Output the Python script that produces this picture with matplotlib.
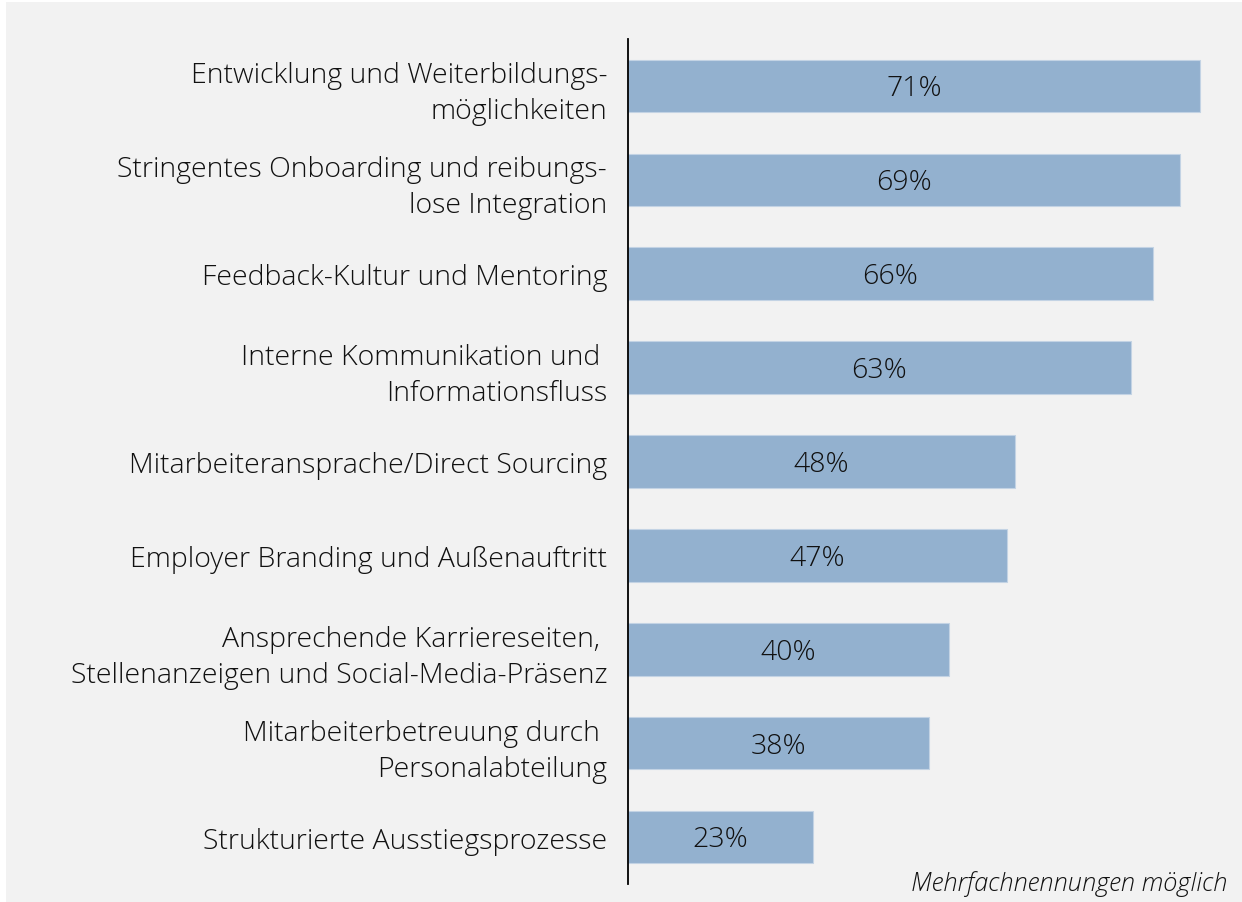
import matplotlib
matplotlib.use("Agg")
import matplotlib.pyplot as plt
from matplotlib.patches import Rectangle

categories = [
    "Entwicklung und Weiterbildungs-\nmöglichkeiten",
    "Stringentes Onboarding und reibungs-\nlose Integration",
    "Feedback-Kultur und Mentoring",
    "Interne Kommunikation und \nInformationsfluss",
    "Mitarbeiteransprache/Direct Sourcing",
    "Employer Branding und Außenauftritt",
    "Ansprechende Karriereseiten, \nStellenanzeigen und Social-Media-Präsenz",
    "Mitarbeiterbetreuung durch \nPersonalabteilung",
    "Strukturierte Ausstiegsprozesse",
]
# bar lengths (percent)
values = [71.0, 68.6, 65.2, 62.4, 48.0, 47.0, 39.8, 37.4, 23.0]
value_labels = ["71%", "69%", "66%", "63%", "48%", "47%", "40%", "38%", "23%"]
footnote = "Mehrfachnennungen möglich"

plt.rcParams['font.family'] = ['Open Sans', 'DejaVu Sans']

W, H = 1242, 903
fig = plt.figure(figsize=(W / 100, H / 100), dpi=100, facecolor="white")
fig.patches.append(Rectangle((6 / W, 0), 1 - 6 / W, 1 - 3 / H, transform=fig.transFigure,
                             facecolor="#f2f2f2", edgecolor="none", zorder=-10))

ax = fig.add_axes([628 / W, 1 - 885 / H, (1232 - 628) / W, (885 - 40) / H])
ax.set_facecolor("none")
ax.set_zorder(1)

bar_color = "#93b1cf"
y = list(range(len(categories)))
bars = ax.barh(y, values, height=0.56, color=bar_color, edgecolor="#c3d3e4", linewidth=0.8)
ax.set_ylim(len(categories) - 0.5, -0.5)
ax.set_xlim(0, 75)

for b, lab in zip(bars, value_labels):
    ax.text(b.get_width() / 2, b.get_y() + b.get_height() / 2 + 0.025, lab,
            ha="center", va="center", fontsize=20.5, color="#111111", fontweight="light")

ax.set_yticks(y)
ax.set_yticklabels(categories, fontsize=20.5, color="#111111", linespacing=1.38, ha="right",
                   fontweight="light")
ax.tick_params(axis="y", length=0, pad=15)
ax.set_xticks([])
for s in ["top", "right", "bottom"]:
    ax.spines[s].set_visible(False)
ax.spines["left"].set_color("#000000")
ax.spines["left"].set_linewidth(1.3)

fig.text(1227 / W, 1 - 884 / H, footnote, ha="right", va="center", fontsize=18.4,
         style="italic", color="#111111", fontweight="light")

fig.savefig("out.png", dpi=100, facecolor=fig.get_facecolor())
